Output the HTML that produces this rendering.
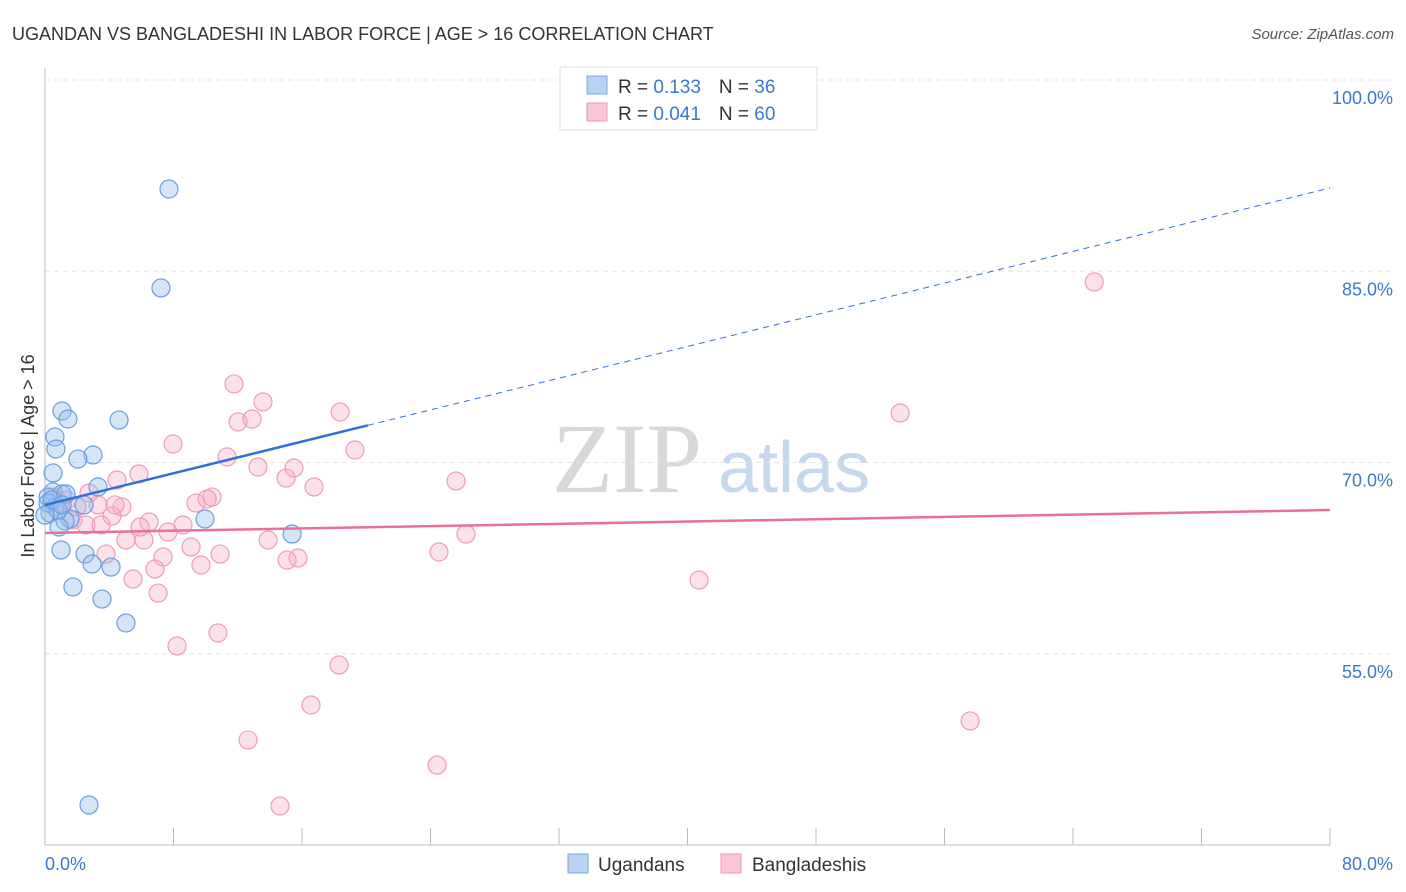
<!DOCTYPE html>
<html><head><meta charset="utf-8"><style>
body{margin:0;background:#fff;font-family:"Liberation Sans",sans-serif;}
svg{display:block}
</style></head><body>
<svg id="chart" width="1406" height="892" viewBox="0 0 1406 892">
<text x="12" y="40" font-size="18" fill="#333">UGANDAN VS BANGLADESHI IN LABOR FORCE | AGE &gt; 16 CORRELATION CHART</text>
<text x="1394" y="39" font-size="15" fill="#555" font-style="italic" text-anchor="end">Source: ZipAtlas.com</text>
<text x="0" y="0" transform="translate(34,456) rotate(-90)" font-size="18" fill="#333" text-anchor="middle">In Labor Force | Age &gt; 16</text>
<g><text x="552" y="492" font-size="100" font-family="Liberation Serif,serif" fill="#d8d8d8">ZIP</text><text x="718" y="492" font-size="72" fill="#c5d8ee">atlas</text></g>
<g id="grid"></g>
<line x1="45" y1="68" x2="45" y2="845" stroke="#bbb"/>
<line x1="45" y1="845" x2="1330" y2="845" stroke="#bbb"/>
<g id="xticks"></g>
<text x="45" y="870" font-size="18" fill="#3a78d0">0.0%</text>
<text x="1393" y="870" font-size="18" fill="#3a78d0" text-anchor="end">80.0%</text>
<g id="pts"></g>
<g id="lines"></g>
<g>
<rect x="560" y="67" width="257" height="63" fill="#fff" stroke="#ddd"/>
<rect x="587" y="76" width="20" height="18" fill="#b7d2f3" stroke="#7aa7e0"/>
<rect x="587" y="103" width="20" height="18" fill="#f9c6d5" stroke="#ec9ab3"/>
<text x="618" y="93" font-size="19" fill="#333">R = <tspan fill="#3a78d0"> 0.133</tspan><tspan dx="18">N = </tspan><tspan fill="#3a78d0"> 36</tspan></text>
<text x="618" y="120" font-size="19" fill="#333">R = <tspan fill="#3a78d0">0.041</tspan><tspan dx="18">N = </tspan><tspan fill="#3a78d0">60</tspan></text>
</g>
<g>
<rect x="568" y="854" width="20" height="19" fill="#b7d2f3" stroke="#7aa7e0"/>
<text x="598" y="871" font-size="19" fill="#333">Ugandans</text>
<rect x="721" y="854" width="20" height="19" fill="#f9c6d5" stroke="#ec9ab3"/>
<text x="752" y="871" font-size="19" fill="#333">Bangladeshis</text>
</g>
</svg>
<script>
const yTicks=[100,85,70,55];
const yTickLabels=["100.0%","85.0%","70.0%","55.0%"];
const xTickVals=[0,8,16,24,32,40,48,56,64,72,80];
const ugX=[7.72,7.22,1.06,1.43,4.61,0.62,0.68,2.99,2.05,0.5,3.3,0.5,1.06,1.31,0.19,2.43,0.62,0.31,1.56,1.25,0.87,9.96,15.38,1.0,2.49,2.93,4.11,1.74,3.55,5.04,2.74,0.19,0.44,0.81,0.0,1.06];
const ugY=[91.45,83.69,74.04,73.41,73.33,72.0,71.06,70.59,70.27,69.18,68.08,67.69,67.53,67.53,67.29,66.67,66.51,66.04,65.57,65.41,64.94,65.57,64.39,63.14,62.82,62.04,61.8,60.24,59.29,57.41,43.14,66.82,67.06,66.27,65.88,66.67];
const bdX=[65.32,11.77,13.57,18.37,53.24,12.02,12.89,7.97,19.3,11.33,13.26,15.5,5.85,4.48,16.75,25.59,15.01,2.74,3.3,4.79,9.4,10.4,10.09,4.17,6.48,8.59,2.55,3.49,1.74,1.37,7.66,26.21,5.04,6.16,13.89,9.09,3.8,10.9,7.35,15.75,15.07,24.53,6.85,9.71,5.48,40.72,7.04,10.77,8.22,18.31,16.56,57.6,12.64,24.41,14.63,0.93,1.99,0.5,4.36,5.92];
const bdY=[84.16,76.16,74.75,73.96,73.88,73.18,73.41,71.45,70.98,70.43,69.65,69.57,69.1,68.63,68.08,68.55,68.78,67.61,66.67,66.51,66.82,67.29,67.14,65.8,65.33,65.1,65.1,65.1,65.49,67.06,64.55,64.39,63.92,63.92,63.92,63.37,62.82,62.82,62.59,62.51,62.35,62.98,61.65,61.96,60.86,60.78,59.76,56.63,55.61,54.12,50.98,49.73,48.24,46.27,43.06,66.82,66.51,67.29,66.67,64.94];
const ugTrend=[66.67,91.53];
const bdTrend=[64.47,66.27];
const NS="http://www.w3.org/2000/svg";
const sx=v=>45+v*(1285/80);
const sy=v=>80+(100-v)*12.75;
function mk(tag,attrs,parent){const e=document.createElementNS(NS,tag);for(const k in attrs)e.setAttribute(k,attrs[k]);parent.appendChild(e);return e;}
const grid=document.getElementById('grid');
yTicks.forEach((t,i)=>{
 const l=mk('line',{x1:45,x2:1394,y1:sy(t),y2:sy(t),stroke:'#e4e4e4','stroke-dasharray':'5,4'},grid);
 
 
 const tx=mk('text',{x:1393,y:sy(t)+24,'font-size':18,fill:'#3a78d0','text-anchor':'end'},grid);
 tx.textContent=yTickLabels[i];
 
 
});
const xt=document.getElementById('xticks');
xTickVals.forEach(v=>{
 const l=mk('line',{x1:sx(v),x2:sx(v),y1:828,y2:845,stroke:'#bbb'},xt);
 
 
});
const pts=document.getElementById('pts');
bdX.forEach((x,i)=>{
 const c=mk('circle',{cx:sx(x),cy:sy(bdY[i]),r:9,fill:'rgba(246,170,195,0.35)',stroke:'#ef9cb6','stroke-width':1.2},pts);
 
 
});
ugX.forEach((x,i)=>{
 const c=mk('circle',{cx:sx(x),cy:sy(ugY[i]),r:9,fill:'rgba(150,190,238,0.4)',stroke:'#6a9ee0','stroke-width':1.2},pts);
 
 
});
const lines=document.getElementById('lines');
const uy=x=>ugTrend[0]+(ugTrend[1]-ugTrend[0])*x/80;
const solidEnd=20.1;
let a=mk('line',{x1:sx(0),y1:sy(uy(0)),x2:sx(solidEnd),y2:sy(uy(solidEnd)),stroke:'#2f6fd6','stroke-width':2.5},lines);


let b=mk('line',{x1:sx(solidEnd),y1:sy(uy(solidEnd)),x2:sx(80),y2:sy(uy(80)),stroke:'#2f6fd6','stroke-width':1,'stroke-dasharray':'6,5'},lines);


let p=mk('line',{x1:sx(0),y1:sy(bdTrend[0]),x2:sx(80),y2:sy(bdTrend[1]),stroke:'#e9709a','stroke-width':2.5},lines);


</script>
</body></html>
